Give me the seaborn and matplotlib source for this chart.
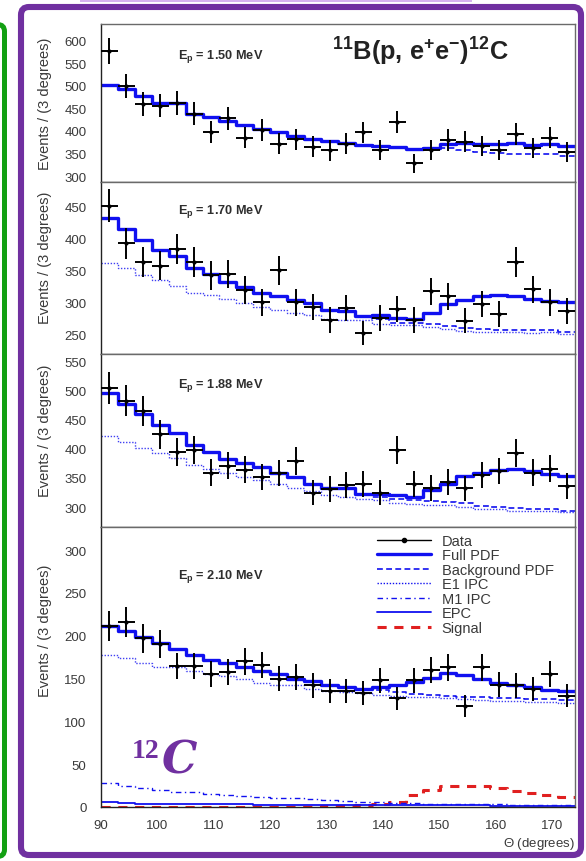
import numpy as np
import matplotlib
matplotlib.use("Agg")
import matplotlib.pyplot as plt
import matplotlib.transforms as mtransforms
from matplotlib.lines import Line2D
from matplotlib.patches import FancyBboxPatch, Rectangle
from matplotlib.ticker import MultipleLocator
import seaborn as sns

# ---------------------------------------------------------------- data
theta_edges = np.arange(90, 175, 3)            # 3-degree bins, 90..174
theta_centers = theta_edges[:-1] + 1.5

energy_labels = ["1.50", "1.70", "1.88", "2.10"]

data_150 = [578, 500, 460, 456, 462, 438, 398, 428, 385, 403, 372, 382, 365, 357,
            372, 397, 358, 420, 328, 358, 380, 376, 367, 358, 393, 362, 385, 353]
full_150 = [501, 494, 478, 463, 463, 437, 430, 422, 413, 405, 397, 390, 383, 377,
            374, 370, 366, 364, 360, 362, 371, 373, 371, 372, 374, 368, 372, 366]
bkg_150 = [501, 494, 478, 463, 463, 437, 430, 422, 413, 405, 397, 390, 383, 377,
           374, 370, 366, 364, 360, 360, 362, 358, 354, 352, 350, 348, 350, 345]

data_170 = [452, 393, 364, 358, 384, 364, 343, 345, 320, 301, 351, 301, 294, 273,
            292, 253, 276, 291, 273, 318, 310, 272, 298, 282, 364, 321, 301, 287]
full_170 = [432, 416, 399, 382, 373, 354, 345, 333, 325, 315, 311, 305, 299, 289,
            287, 280, 281, 277, 275, 284, 298, 305, 310, 313, 310, 306, 303, 302]
bkg_170 = [432, 416, 399, 382, 373, 354, 345, 333, 325, 315, 311, 305, 299, 289,
           287, 280, 274, 269, 268, 267, 264, 261, 259, 258, 257, 257, 257, 254]
e1_170 = [362, 354, 343, 336, 327, 315, 312, 306, 299, 294, 289, 284, 281, 275,
          273, 273, 267, 266, 266, 263, 259, 256, 255, 254, 254, 253, 254, 251]

data_188 = [504, 482, 465, 425, 394, 398, 359, 371, 364, 352, 358, 379, 325, 331,
            338, 339, 325, 398, 340, 333, 343, 332, 355, 362, 392, 359, 366, 336]
full_188 = [496, 477, 460, 440, 427, 407, 395, 383, 375, 368, 358, 352, 340, 333,
            332, 323, 323, 320, 318, 329, 340, 353, 358, 364, 366, 362, 356, 353]
bkg_188 = [496, 477, 460, 440, 427, 407, 395, 383, 375, 368, 358, 352, 340, 333,
           332, 323, 318, 314, 312, 311, 309, 307, 302, 300, 298, 297, 296, 294]
e1_188 = [421, 411, 401, 392, 384, 372, 366, 358, 352, 346, 340, 332, 327, 321,
          317, 314, 312, 307, 306, 304, 303, 300, 297, 296, 294, 293, 293, 291]

data_210 = [211, 216, 197, 190, 165, 165, 155, 158, 170, 166, 150, 152, 142, 135,
            136, 133, 148, 127, 148, 160, 163, 118, 163, 143, 142, 138, 155, 130]
full_210 = [211, 205, 199, 191, 184, 178, 172, 168, 163, 159, 155, 150, 147, 142,
            140, 138, 140, 142, 146, 151, 156, 154, 150, 145, 143, 140, 137, 136]
bkg_210 = [211, 205, 199, 191, 184, 178, 172, 168, 163, 159, 155, 150, 147, 142,
           140, 138, 137, 134, 132, 131, 130, 129, 128, 127, 127, 126, 126, 125]
e1_210 = [178, 174, 168, 164, 163, 159, 155, 153, 149, 145, 143, 142, 138, 136,
          134, 133, 131, 130, 129, 128, 127, 126, 125, 124, 124, 123, 123, 122]
m1_210 = [28, 25, 22, 20, 18, 17, 15, 14, 13, 12, 11, 10, 9, 8,
          7, 6, 6, 5, 5, 4, 4, 3, 3, 3, 2, 2, 2, 2]
epc_210 = [6, 5, 4, 4, 3, 3, 3, 3, 3, 2, 2, 2, 2, 2,
           2, 2, 2, 2, 2, 2, 2, 2, 2, 1, 1, 1, 1, 1]
signal_210 = [0, 0, 0, 0, 0, 0, 0, 0, 0, 0, 0, 0, 0, 1,
              1, 2, 3, 6, 14, 20, 24, 25, 24, 22, 19, 16, 14, 12]

panels = [
    dict(data=data_150, full=full_150, bkg=bkg_150, ylim=(287, 637)),
    dict(data=data_170, full=full_170, bkg=bkg_170, e1=e1_170, ylim=(220, 489)),
    dict(data=data_188, full=full_188, bkg=bkg_188, e1=e1_188, ylim=(266, 562)),
    dict(data=data_210, full=full_210, bkg=bkg_210, e1=e1_210, m1=m1_210,
         epc=epc_210, sig=signal_210, ylim=(0, 327)),
]

legend_labels = ["Data", "Full PDF", "Background PDF", "E1 IPC", "M1 IPC", "EPC", "Signal"]

# ---------------------------------------------------------------- style
sns.set_theme(style="white")
plt.rcParams["font.family"] = ["Liberation Sans", "DejaVu Sans"]
plt.rcParams["mathtext.fontset"] = "custom"
plt.rcParams["mathtext.rm"] = "Liberation Sans"
plt.rcParams["mathtext.bf"] = "Liberation Sans:bold"

BLUE = "#1010f0"
RED = "#e02020"
TXT = "#3a3a3a"
PURPLE = "#7030a0"

W, H = 586, 862
fig = plt.figure(figsize=(W / 100, H / 100), dpi=100)
fig.patch.set_facecolor("white")
px = mtransforms.Affine2D().scale(1 / W, -1 / H).translate(0, 1) + fig.transFigure

# decorative frames
fig.patches.append(Rectangle((80, 0), 392, 2.5, transform=px, color="#d6b4ef", lw=0))
fig.patches.append(FancyBboxPatch((-30, 25.5), 34.5, 832, boxstyle="round,pad=0,rounding_size=7",
                                  transform=px, fill=False, ec="#12a012", lw=3.6))
fig.patches.append(FancyBboxPatch((21, 8), 560, 848, boxstyle="round,pad=0,rounding_size=8",
                                  transform=px, fill=False, ec=PURPLE, lw=4.4))

ax_left, ax_right = 101, 575
bounds = [(25, 183), (183, 355), (355, 528), (528, 808)]
label_tops = [38, 192, 365, 565]
ep_label_y = [57, 212, 385, 577]


def steps(values):
    return np.append(values, values[-1])


axes = []
for i, (p, (top, bot)) in enumerate(zip(panels, bounds)):
    ax = fig.add_axes([ax_left / W, 1 - bot / H, (ax_right - ax_left) / W, (bot - top) / H])
    axes.append(ax)
    ax.set_facecolor("white")
    sx = theta_edges

    if "sig" in p:
        sns.lineplot(x=sx, y=steps(p["sig"]), drawstyle="steps-post", color=RED, lw=2.2,
                     linestyle=(0, (3, 2.5)), ax=ax, estimator=None, sort=False)
    if "epc" in p:
        sns.lineplot(x=sx, y=steps(p["epc"]), drawstyle="steps-post", color=BLUE, lw=1.3,
                     ax=ax, estimator=None, sort=False)
    if "m1" in p:
        sns.lineplot(x=sx, y=steps(p["m1"]), drawstyle="steps-post", color=BLUE, lw=1.0,
                     linestyle=(0, (4, 2.5, 1, 2.5)), ax=ax, estimator=None, sort=False)
    if "e1" in p:
        sns.lineplot(x=sx, y=steps(p["e1"]), drawstyle="steps-post", color=BLUE, lw=1.0,
                     linestyle=(0, (1, 1.2)), alpha=0.8, ax=ax, estimator=None, sort=False)
    sns.lineplot(x=sx, y=steps(p["bkg"]), drawstyle="steps-post", color=BLUE, lw=1.2,
                 linestyle=(0, (3.5, 2)), ax=ax, estimator=None, sort=False)
    sns.lineplot(x=sx, y=steps(p["full"]), drawstyle="steps-post", color=BLUE, lw=2.4,
                 ax=ax, estimator=None, sort=False)

    counts = np.asarray(p["data"], dtype=float)
    ax.errorbar(theta_centers, counts, xerr=1.5, yerr=1.2 * np.sqrt(counts), fmt="none",
                ecolor="black", elinewidth=1.4, capsize=0, zorder=6)
    sns.scatterplot(x=theta_centers, y=counts, color="black", s=9, linewidth=0, ax=ax, zorder=7)

    ax.set_xlim(90, 174)
    ax.set_ylim(*p["ylim"])
    ax.xaxis.set_major_locator(MultipleLocator(10))
    ax.xaxis.set_minor_locator(MultipleLocator(2))
    ax.yaxis.set_major_locator(MultipleLocator(50))
    ax.yaxis.set_minor_locator(MultipleLocator(10))
    ax.tick_params(axis="both", which="both", direction="in", top=False, right=False,
                   color="#222222", labelcolor=TXT, labelsize=9.5)
    ax.tick_params(axis="y", which="major", length=8, width=1.0, pad=10.5)
    ax.tick_params(axis="y", which="minor", length=4, width=0.8)
    ax.tick_params(axis="x", which="major", length=6.5, width=1.0, pad=9)
    ax.tick_params(axis="x", which="minor", length=3, width=0.8)
    for side, sp in ax.spines.items():
        sp.set_visible(True)
        sp.set_linewidth(1.0)
        sp.set_color("#222222" if side in ("left", "bottom") else "#6a6a6a")
    if i < 3:
        ax.set_xticklabels([])
        ax.set_xlabel("")
    else:
        ax.set_xlabel(r"$\Theta$ (degrees)", fontsize=9.5, color=TXT, loc="right", labelpad=2.5)
    ax.set_ylabel("Events / (3 degrees)", fontsize=10.5, color=TXT, loc="top")
    ax.yaxis.set_label_coords(-0.103, (bot - label_tops[i]) / (bot - top))

    ax.text(0.162, (bot - ep_label_y[i]) / (bot - top),
            r"E$_{\mathbf{p}}$ = " + energy_labels[i] + " MeV", transform=ax.transAxes,
            fontsize=9.2, fontweight="bold", color="#2e2e2e", ha="left", va="center")

axes[0].text(0.487, (183 - 52) / 158,
             r"$^{\mathbf{11}}$B(p, e$^{\mathbf{+}}$e$^{\mathbf{-}}$)$^{\mathbf{12}}$C",
             transform=axes[0].transAxes, fontsize=18.3, fontweight="bold", color="#222222",
             ha="left", va="center")

# legend in the bottom panel
handles = [
    Line2D([], [], color="black", lw=1.0, marker="o", ms=3),
    Line2D([], [], color=BLUE, lw=2.4),
    Line2D([], [], color=BLUE, lw=1.2, linestyle=(0, (3.5, 2))),
    Line2D([], [], color=BLUE, lw=1.0, linestyle=(0, (1, 1.2))),
    Line2D([], [], color=BLUE, lw=1.0, linestyle=(0, (4, 2.5, 1, 2.5))),
    Line2D([], [], color=BLUE, lw=1.3),
    Line2D([], [], color=RED, lw=2.2, linestyle=(0, (3, 2.5))),
]
leg = axes[3].legend(handles, legend_labels, loc="upper left",
                     bbox_to_anchor=(0.582, (808 - 535) / 280),
                     frameon=False, fontsize=10.5, handlelength=3.7, handletextpad=0.75,
                     labelspacing=0.03, borderpad=0, borderaxespad=0)
for t in leg.get_texts():
    t.set_color(TXT)

# carbon-12 label
fig.text(132, 758, "12", transform=px, fontsize=20, fontweight="bold", color=PURPLE,
         family="Liberation Serif", ha="left", va="baseline")
fig.text(162, 774, "C", transform=px, fontsize=32, fontweight="bold", fontstyle="italic",
         color=PURPLE, family="DejaVu Serif", ha="left", va="baseline")

fig.savefig("out.png", dpi=100, facecolor="white")
